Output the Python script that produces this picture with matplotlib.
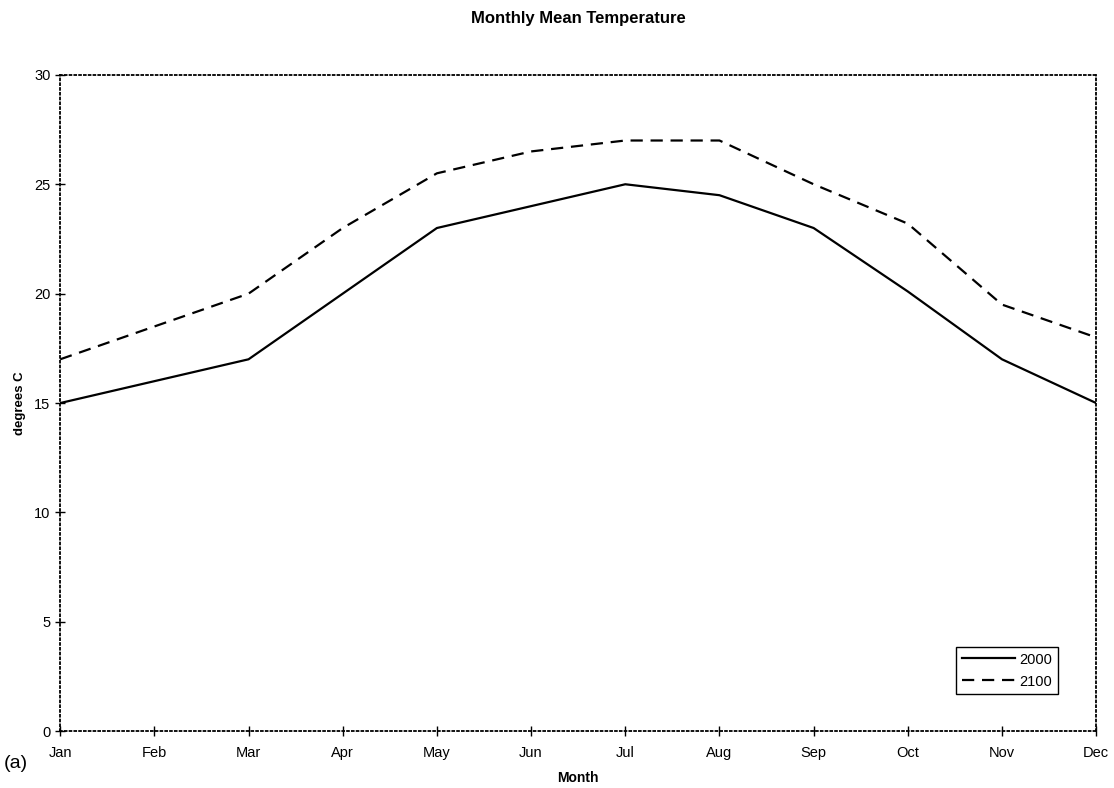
import matplotlib
matplotlib.use("Agg")
import matplotlib.pyplot as plt

plt.rcParams['font.family'] = ['Liberation Sans', 'DejaVu Sans']

# data
months = ['Jan', 'Feb', 'Mar', 'Apr', 'May', 'Jun',
          'Jul', 'Aug', 'Sep', 'Oct', 'Nov', 'Dec']
temp_2000 = [15, 16, 17, 20, 23, 24, 25, 24.5, 23, 20.1, 17, 15]
temp_2100 = [17, 18.5, 20, 23, 25.5, 26.5, 27, 27, 25, 23.2, 19.5, 18]

fig = plt.figure(figsize=(11.14, 7.88), dpi=100)
ax = fig.add_axes([0.054, 0.072, 0.930, 0.833])

x = range(len(months))
ax.plot(x, temp_2000, color='black', linewidth=1.6, linestyle='-', label='2000')
ax.plot(x, temp_2100, color='black', linewidth=1.6, linestyle=(0, (5.5, 3.5)), label='2100')

ax.set_xlim(0, len(months) - 1)
ax.set_ylim(0, 30)
ax.set_xticks(list(x))
ax.set_xticklabels(months)
ax.set_yticks([0, 5, 10, 15, 20, 25, 30])
ax.tick_params(axis='both', direction='inout', length=7, width=1, labelsize=10.5)
ax.tick_params(axis='x', pad=7)

for s in ax.spines.values():
    s.set_linestyle(':')
    s.set_linewidth(1.3)
    s.set_color('black')

ax.set_title('Monthly Mean Temperature', fontsize=12, fontweight='bold', pad=37)
ax.set_xlabel('Month', fontsize=10, fontweight='bold', labelpad=8)
ax.set_ylabel('degrees C', fontsize=9.5, fontweight='bold', labelpad=6)

leg = ax.legend(loc='lower right', bbox_to_anchor=(0.97, 0.045), fontsize=10.5,
                fancybox=False, framealpha=1, edgecolor='black',
                handlelength=3.6, handletextpad=0.3, borderpad=0.4, labelspacing=0.55)
leg.get_frame().set_linewidth(1)

fig.text(0.003, 0.026, '(a)', fontsize=14)

fig.savefig('out.png', dpi=100)
